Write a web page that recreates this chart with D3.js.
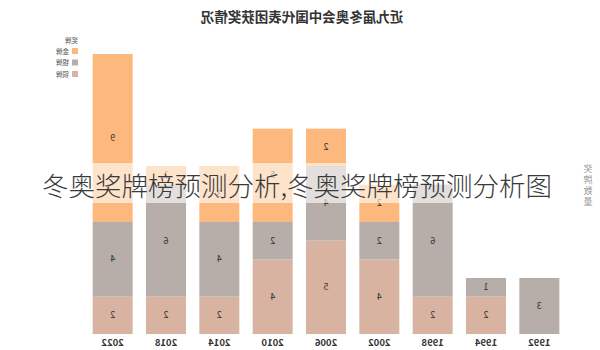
<!DOCTYPE html>
<html>
<head>
<meta charset="utf-8">
<script src="https://cdn.jsdelivr.net/npm/d3@7/dist/d3.min.js"></script>
<style>
  body { margin: 0; background: #fff; }
  text { font-family: "Noto Sans CJK SC", "Noto Sans", sans-serif; }
</style>
</head>
<body>
<div class="chart"></div>
<script>
// medals per games (the picture is a mirrored copy, so the whole chart is flipped)
var years = ["1992", "1994", "1998", "2002", "2006", "2010", "2014", "2018", "2022"];
var gold = [0, 0, 0, 2, 2, 5, 3, 1, 9];
var silver = [3, 1, 6, 2, 4, 2, 4, 6, 4];
var bronze = [0, 2, 2, 4, 5, 4, 2, 2, 2];
var medalNames = ["金牌", "银牌", "铜牌"];
var medalColors = ["#fdb97d", "#b8aea9", "#d9b3a1"];

var width = 600, height = 350;

var svg = d3.select(".chart").append("svg")
    .attr("width", width)
    .attr("height", height);

svg.append("rect").attr("width", width).attr("height", height).attr("fill", "#fff");

// mirrored group
var g = svg.append("g").attr("transform", "translate(" + width + ",0) scale(-1,1)");

var x = d3.scaleBand().domain(years).range([34, 514]).paddingInner(0.25).paddingOuter(0.125);
var y = d3.scaleLinear().domain([0, 15]).range([334, 54]);

var rows = years.map(function (d, i) {
    return { year: d, bronze: bronze[i], silver: silver[i], gold: gold[i] };
});
var stack = d3.stack().keys(["bronze", "silver", "gold"])(rows);
var colorOf = { bronze: medalColors[2], silver: medalColors[1], gold: medalColors[0] };

var layers = g.selectAll("g.layer")
    .data(stack)
    .enter()
    .append("g")
    .attr("class", "layer")
    .attr("fill", function (d) { return colorOf[d.key]; });

layers.selectAll("rect")
    .data(function (d) { return d; })
    .enter()
    .append("rect")
    .attr("x", function (d) { return x(d.data.year); })
    .attr("y", function (d) { return y(d[1]); })
    .attr("width", x.bandwidth())
    .attr("height", function (d) { return y(d[0]) - y(d[1]); });

layers.selectAll("text")
    .data(function (d) { return d.filter(function (p) { return p[1] - p[0] > 0; }); })
    .enter()
    .append("text")
    .attr("x", function (d) { return x(d.data.year) + x.bandwidth() / 2; })
    .attr("y", function (d) { return (y(d[0]) + y(d[1])) / 2; })
    .attr("dy", "0.35em")
    .attr("text-anchor", "middle")
    .attr("font-size", 9)
    .attr("fill", "#333")
    .text(function (d) { return d[1] - d[0]; });

// year axis
var xAxis = g.append("g")
    .attr("transform", "translate(0,334)")
    .call(d3.axisBottom(x).tickSize(0).tickPadding(5));
xAxis.select(".domain").remove();
xAxis.selectAll("text")
    .attr("font-size", 9.5)
    .attr("font-weight", "bold")
    .attr("fill", "#333")
    .style("font-family", "\"Noto Sans CJK SC\", sans-serif");

// title
g.append("text")
    .attr("x", 298)
    .attr("y", 22)
    .attr("text-anchor", "middle")
    .attr("font-size", 13.5)
    .attr("font-weight", "bold")
    .attr("fill", "#333")
    .text("近九届冬奥会中国代表团获奖情况");

// legend
var legend = g.append("g").attr("transform", "translate(522,0)");
legend.append("text")
    .attr("x", 0).attr("y", 43)
    .attr("font-size", 6.5).attr("fill", "#555")
    .text("奖牌");
var items = legend.selectAll("g.item")
    .data(medalNames)
    .enter()
    .append("g")
    .attr("class", "item")
    .attr("transform", function (d, i) { return "translate(0," + (48 + i * 11.5) + ")"; });
items.append("rect")
    .attr("width", 6).attr("height", 6)
    .attr("fill", function (d, i) { return medalColors[i]; });
items.append("text")
    .attr("x", 9).attr("y", 5.5)
    .attr("font-size", 6.5).attr("fill", "#555")
    .text(function (d) { return d; });

// axis label, stacked characters
var yl = g.append("text")
    .attr("x", 12).attr("y", 172)
    .attr("text-anchor", "middle")
    .attr("font-size", 9).attr("fill", "#999");
yl.selectAll("tspan")
    .data("奖牌数量".split(""))
    .enter()
    .append("tspan")
    .attr("x", 12)
    .attr("dy", function (d, i) { return i === 0 ? 0 : 11; })
    .text(function (d) { return d; });

// watermark band and caption (not mirrored)
svg.append("rect")
    .attr("x", 40).attr("y", 163)
    .attr("width", 522).attr("height", 40)
    .attr("fill", "#fff").attr("opacity", 0.6);
svg.append("text")
    .attr("x", 297).attr("y", 196)
    .attr("text-anchor", "middle")
    .attr("font-size", 26.5)
    .attr("font-weight", 300)
    .attr("fill", "#3a3a3a")
    .text("冬奥奖牌榜预测分析,冬奥奖牌榜预测分析图");
</script>
</body>
</html>
